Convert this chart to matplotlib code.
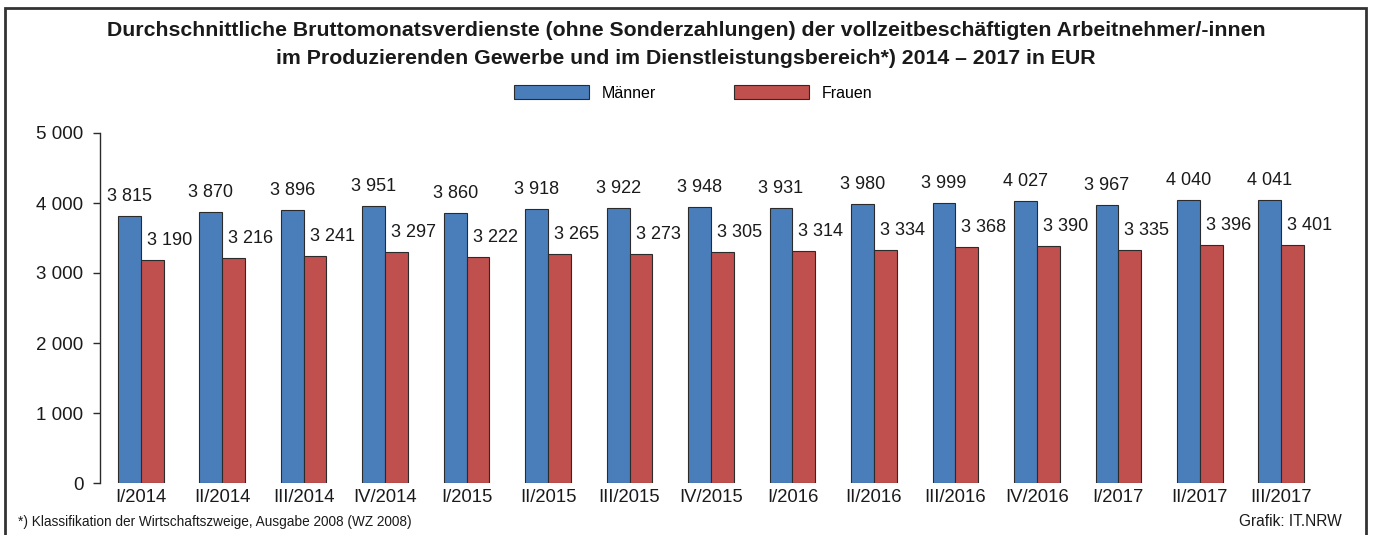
import matplotlib.pyplot as plt
import numpy as np
from matplotlib.patches import Rectangle

plt.rcParams['font.family'] = ['Liberation Sans', 'DejaVu Sans']

quarters = ['I/2014', 'II/2014', 'III/2014', 'IV/2014', 'I/2015', 'II/2015', 'III/2015',
            'IV/2015', 'I/2016', 'II/2016', 'III/2016', 'IV/2016', 'I/2017', 'II/2017', 'III/2017']
maenner = [3815, 3870, 3896, 3951, 3860, 3918, 3922, 3948, 3931, 3980, 3999, 4027, 3967, 4040, 4041]
frauen = [3190, 3216, 3241, 3297, 3222, 3265, 3273, 3305, 3314, 3334, 3368, 3390, 3335, 3396, 3401]
yticks = [0, 1000, 2000, 3000, 4000, 5000]

blue = '#4a7ebb'
red = '#c0504d'
edge = '#2b2b2b'
txt = '#1a1a1a'

fig = plt.figure(figsize=(13.73, 5.35), dpi=100)
ax = fig.add_axes([100 / 1373, 1 - 483 / 535, 1222 / 1373, 350 / 535])

x = np.arange(len(quarters))
w = 0.28
b1 = ax.bar(x - w / 2, maenner, w, color=blue, edgecolor=edge, linewidth=0.8, label='Männer')
b2 = ax.bar(x + w / 2, frauen, w, color=red, edgecolor=edge, linewidth=0.8, label='Frauen')

def fmt(v):
    return f'{v:,}'.replace(',', ' ')

# value labels: Männer centred above, Frauen shifted to the right
for xi, v in zip(x - w / 2, maenner):
    ax.annotate(fmt(v), (xi, v), xytext=(0, 11), textcoords='offset pixels',
                ha='center', va='bottom', fontsize=13, color=txt)
for xi, v in zip(x + w / 2, frauen):
    ax.annotate(fmt(v), (xi, v), xytext=(17, 11), textcoords='offset pixels',
                ha='center', va='bottom', fontsize=13, color=txt)

ax.set_xlim(-0.5, len(quarters) - 0.5)
ax.set_ylim(0, 5000)
ax.set_yticks(yticks)
ax.set_yticklabels([fmt(t) for t in yticks], fontsize=13.5, color=txt)
ax.set_xticks(x)
ax.set_xticklabels(quarters, fontsize=13.3, color=txt)
ax.tick_params(axis='x', length=0, pad=4)
ax.tick_params(axis='y', length=5, width=1, color=edge, pad=7)
for s in ['top', 'right', 'bottom']:
    ax.spines[s].set_visible(False)
ax.spines['left'].set_color(edge)
ax.spines['left'].set_linewidth(1)

fig.text(686 / 1373, 1 - 31 / 535,
         'Durchschnittliche Bruttomonatsverdienste (ohne Sonderzahlungen) der vollzeitbeschäftigten Arbeitnehmer/-innen',
         ha='center', va='center', fontsize=15.3, fontweight='bold', color=txt)
fig.text(686 / 1373, 1 - 59 / 535,
         'im Produzierenden Gewerbe und im Dienstleistungsbereich*) 2014 – 2017 in EUR',
         ha='center', va='center', fontsize=15.3, fontweight='bold', color=txt)

fig.legend(handles=[b1, b2], loc='center', bbox_to_anchor=(693 / 1373, 1 - 93 / 535),
           ncol=2, frameon=False, fontsize=11.5, handlelength=4.7, handleheight=0.9,
           handletextpad=0.8, columnspacing=4.9)

fig.text(18 / 1373, 1 - 522 / 535, '*) Klassifikation der Wirtschaftszweige, Ausgabe 2008 (WZ 2008)',
         ha='left', va='center', fontsize=9.8, color=txt)
fig.text(1342 / 1373, 1 - 522 / 535, 'Grafik: IT.NRW',
         ha='right', va='center', fontsize=11.2, color=txt)

fig.patches.append(Rectangle((5 / 1373, -0.05), 1361 / 1373, 1.05 - 8 / 535,
                             transform=fig.transFigure, fill=False,
                             edgecolor='#333333', linewidth=2))

fig.savefig('out.png', dpi=100)
